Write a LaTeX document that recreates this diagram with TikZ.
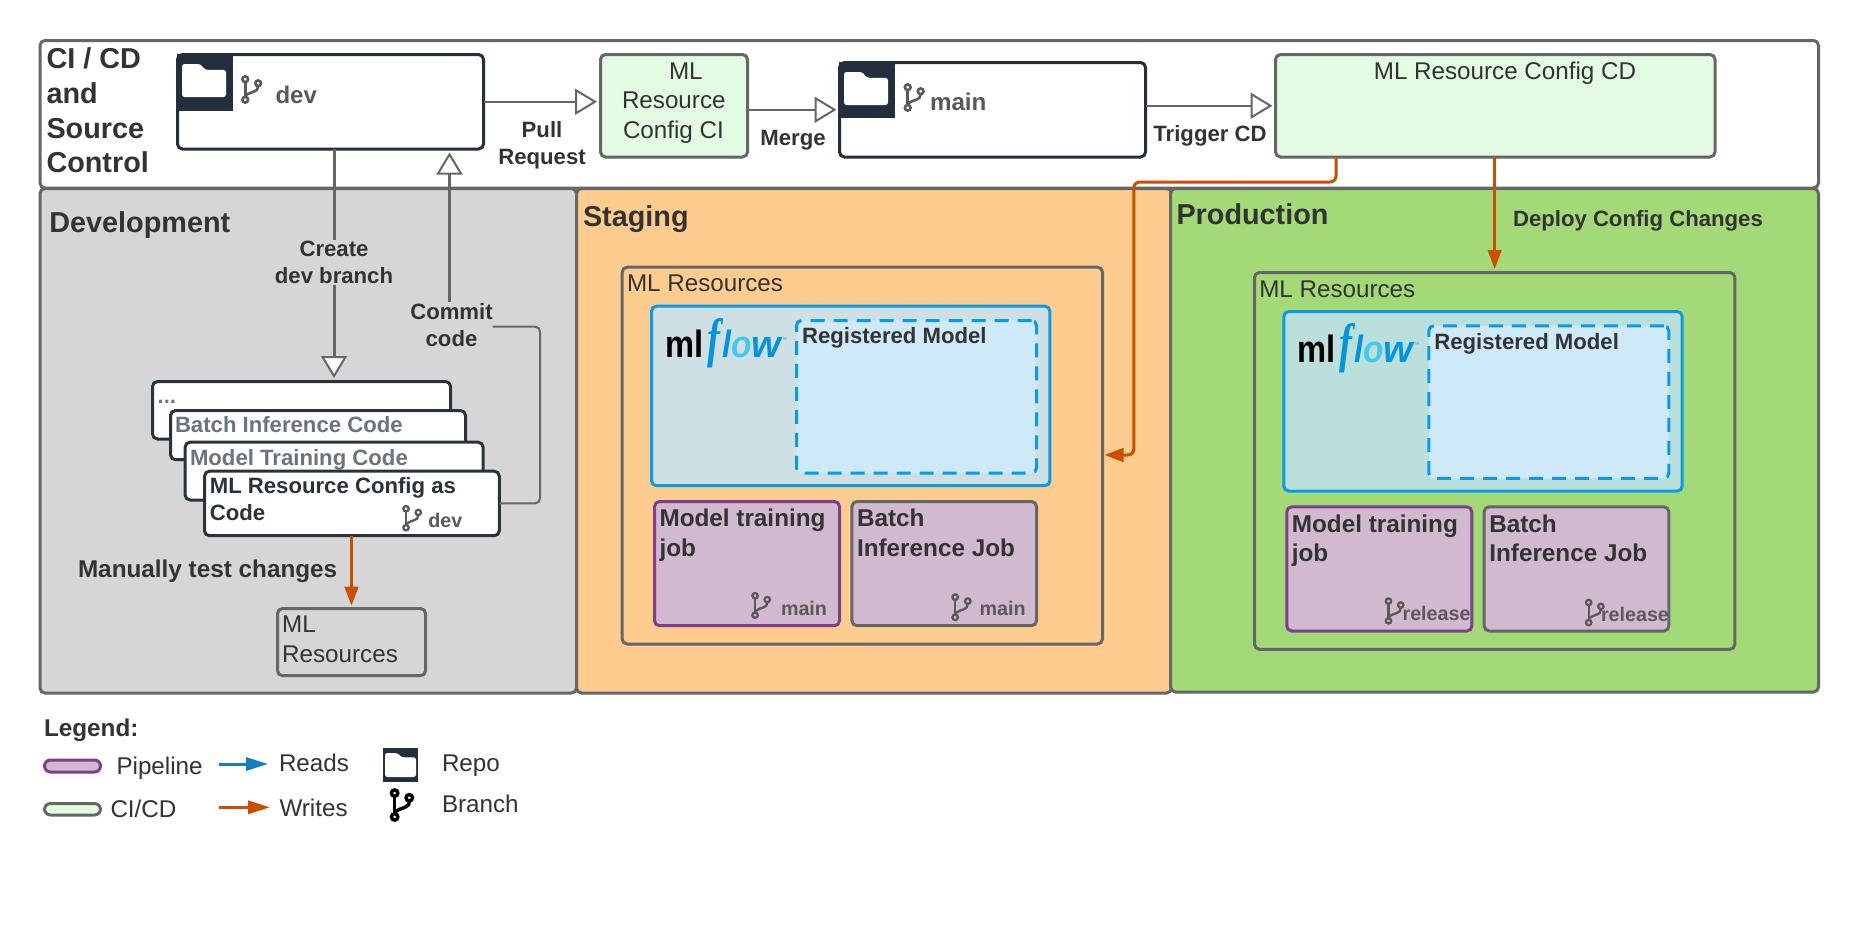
\documentclass[tikz,border=0pt]{standalone}
\usepackage{fontspec}
\usepackage{graphicx}
\setmainfont{Liberation Sans}
\newfontfamily\serifglyph{Liberation Serif}
\usetikzlibrary{arrows.meta,calc}
\definecolor{ink}{HTML}{333333}
\definecolor{edge}{HTML}{666666}
\definecolor{navy}{HTML}{232F3E}
\definecolor{stackedge}{HTML}{2A323C}
\definecolor{branchgray}{HTML}{595959}
\definecolor{slate}{HTML}{6B7380}
\definecolor{devfill}{HTML}{D6D6D6}
\definecolor{stagefill}{HTML}{FFCC8F}
\definecolor{prodfill}{HTML}{A3D977}
\definecolor{cifill}{HTML}{E3FAE3}
\definecolor{jobfill}{HTML}{D1B9D0}
\definecolor{jobedge}{HTML}{7D3F8C}
\definecolor{flowblue}{HTML}{0A9BE6}
\definecolor{regfill}{HTML}{CEE9F7}
\definecolor{mlfillS}{HTML}{CEE0E3}
\definecolor{mlfillP}{HTML}{BBE0DC}
\definecolor{writeorange}{HTML}{CC4E00}
\definecolor{readblue}{HTML}{0E7FC0}
\definecolor{logoblue}{HTML}{0194E2}
\definecolor{logocyan}{HTML}{43C9ED}
\newcommand\fs[2]{\fontsize{#1}{#2}\selectfont}
\tikzset{
  panelbox/.style={draw=edge,line width=3pt,rounded corners=5pt,inner sep=0,outer sep=0,anchor=north west},
  repobox/.style={panelbox,draw=navy,fill=white},
  stackbox/.style={panelbox,draw=stackedge,fill=white},
  cibox/.style={panelbox,fill=cifill},
  jobbox/.style={panelbox,fill=jobfill,draw=jobedge},
  batchbox/.style={panelbox,fill=jobfill},
  flowbox/.style={panelbox,draw=flowblue},
  regbox/.style={panelbox,draw=flowblue,fill=regfill,dash pattern=on 14pt off 9pt},
  txt/.style={inner sep=0,outer sep=0,anchor=base west,text=ink,align=left},
  title/.style={txt,font=\bfseries\fs{28.8}{34.7}},
  body/.style={txt,font=\fs{24.2}{29.3}},
  strong/.style={txt,font=\bfseries\fs{24.3}{29.3}},
  small/.style={txt,font=\bfseries\fs{22.15}{27}},
  brlabel/.style={txt,text=branchgray,font=\bfseries\fs{19.7}{24}},
  hollow/.style={draw=edge,line width=2.5pt,-{Triangle[open,length=22pt,width=26pt,fill=white,line width=2pt]}},
  write/.style={draw=writeorange,line width=3pt,-{Triangle[length=19pt,width=13.5pt,fill=writeorange]},line join=round},
  readarrow/.style={draw=readblue,line width=3pt,-{Triangle[length=22pt,width=13pt,fill=readblue]}},
}
% box as a named node from the outer corners of its stroke
\newcommand\bx[6]{%
  \pgfmathsetmacro\bxw{#5-#3-1}\pgfmathsetmacro\bxh{#6-#4-1.5}%
  \pgfmathsetmacro\bxl{#3+.5}\pgfmathsetmacro\bxt{#4+.5}%
  \node[#1,minimum width=\bxw pt,minimum height=\bxh pt] (#2) at (\bxl,\bxt) {};}
\newcommand\gitbranch[6]{%
  \pgfmathsetmacro\brr{.15*#3}%
  \begin{scope}[shift={(#1,#2)},x=#3pt,y=-#4pt,draw=#5,line width=#6pt]
    \draw (.17,.12) circle[radius=\brr pt];
    \draw (.17,.88) circle[radius=\brr pt];
    \draw (.85,.27) circle[radius=\brr pt];
    \draw (.17,.23) -- (.17,.77);
    \draw (.85,.38) .. controls (.85,.62) and (.5,.55) .. (.19,.72);
  \end{scope}}
\newcommand\folderglyph[4]{%
  \begin{scope}[shift={(#1,#2)},x=#3pt,y=-#4pt]
    \fill[white,rounded corners=2.5pt] (0,0) -- (0,1) -- (1,1) -- (1,.18) -- (.53,.18) -- (.41,0) -- cycle;
  \end{scope}}
% the ML resources block, drawn once per environment
\newcommand\resblock[4]{%
  \begin{scope}[shift={(#2,#3)}]
    \bx{panelbox}{#1res}{621.7}{266.7}{1103}{645}
    \node[body] (#1restxt) at (627,291.7) {ML Resources};
    \bx{flowbox,fill=#4}{#1flow}{651}{305.7}{1050.4}{486.7}
    \bx{regbox}{#1reg}{796}{320}{1037}{474}
    \node[small] (#1regtxt) at (802,343.7) {Registered Model};
    \node[txt,text=black,font=\bfseries\fs{38}{40}] (#1ml) at (665,357) {\scalebox{.86}[1]{ml}};
    \node[txt,text=logoblue,font=\serifglyph\bfseries\itshape\fs{54}{54}] (#1f) at (707,356) {\scalebox{.72}[1]{f}};
    \node[txt,text=logoblue,font=\bfseries\itshape\fs{38}{40}] (#1l) at (722,357) {\scalebox{.85}[1]{l}};
    \node[txt,text=logocyan,font=\bfseries\itshape\fs{38}{40}] (#1o) at (731,357) {\scalebox{.88}[1]{o}};
    \node[txt,text=logoblue,font=\bfseries\itshape\fs{38}{40}] (#1w) at (751,357) {w};
    \node[txt,text=logoblue,font=\fs{5}{6}] (#1tm) at (782,341) {™};
    \bx{jobbox}{#1job}{654}{501}{840}{626.7}
    \node[strong] (#1jobtxt) at (659.5,556) {Model training\\job};
    \bx{batchbox}{#1bat}{851.4}{501}{1037}{626.7}
    \node[strong] (#1battxt) at (857,556) {Batch\\Inference Job};
  \end{scope}}

\begin{document}
\begin{tikzpicture}[x=1pt,y=-1pt]
\useasboundingbox (0,0) rectangle (1857,929);
\fill[white] (0,0) rectangle (1857,929);

% panels
\bx{panelbox,fill=white}{cicd}{39.5}{40}{1819}{189}
\bx{panelbox,fill=devfill}{dev}{39.5}{188}{577}{694}
\bx{panelbox,fill=stagefill}{stage}{576}{188}{1172}{694}
\bx{panelbox,fill=prodfill}{prod}{1170}{188}{1819}{693}
\node[title] (citxt) at (46.5,172.7) {CI / CD\\and\\Source\\Control};
\node[title] (devtxt) at (49.4,232.7) {Development};
\node[title] (stagetxt) at (583,226) {Staging};
\node[title] (prodtxt) at (1176.5,224) {Production};

% repositories and CI/CD
\bx{repobox}{devrepo}{177}{54}{484}{150}
\fill[navy] (177,54) rectangle (233,110.7);
\folderglyph{182}{64}{44}{33}
\gitbranch{242}{76}{19}{27}{branchgray}{2.6}
\node[txt,text=branchgray,font=\bfseries\fs{24}{29}] (devlbl) at (275.5,103) {dev};

\bx{cibox}{ci}{600}{54}{748}{158}
\node[txt,font=\fs{24.2}{29}] (citext1) at (669,79) {ML};
\node[txt,font=\fs{24.2}{29}] (citext2) at (622,108) {Resource};
\node[txt,font=\fs{24.2}{29}] (citext3) at (623,138) {Config CI};

\bx{repobox}{mainrepo}{839}{62}{1146}{158}
\fill[navy] (839,62) rectangle (895,118);
\folderglyph{844}{72}{44}{33}
\gitbranch{904.5}{84}{19}{27}{branchgray}{2.6}
\node[txt,text=branchgray,font=\bfseries\fs{24.2}{29}] (mainlbl) at (930,110.7) {main};

\bx{cibox}{cd}{1275}{54}{1715.5}{158}
\node[txt,font=\fs{24.2}{29},anchor=base] (cdtxt) at (1505,79) {ML Resource Config CD};

% top row connectors
\draw[hollow] (devrepo.east) -- ($(ci.west |- devrepo.east)+(-3.5,0)$);
\draw[hollow] (ci.east |- mainrepo.west) -- ($(mainrepo.west)+(-3,0)$);
\draw[hollow,line width=1.8pt] (mainrepo.east |- cd.west) -- ($(cd.west)+(-3,0)$);
\node[small,align=center,anchor=base] (pulltxt) at (542,164) {Pull\\Request};
\node[small,anchor=base] (mergetxt) at (793,145) {Merge};
\node[small,anchor=base] (triggertxt) at (1210,141.7) {Trigger CD};

% code stack
\bx{stackbox}{stacka}{152}{381}{451}{440}
\node[small,text=slate] (stackatxt) at (157.6,403) {...};
\bx{stackbox}{stackb}{170}{410}{466}{460.7}
\node[small,text=slate] (stackbtxt) at (175,432.7) {Batch Inference Code};
\bx{stackbox}{stackc}{184.6}{441.7}{483.6}{501}
\node[small,text=slate] (stackctxt) at (190,465) {Model Training Code};
\bx{stackbox}{stackd}{204}{470.7}{499.8}{536.7}
\node[small,text=stackedge] (stackdtxt) at (209.8,520) {ML Resource Config as\\Code};
\gitbranch{403}{505.7}{18}{25}{branchgray}{2.3}
\node[brlabel] (stackdbr) at (428.4,527.7) {dev};

% development connectors
\node[small,align=center,anchor=center,fill=devfill,inner ysep=1pt] (createtxt) at (334,262.5) {Create\\dev branch};
\draw[edge,line width=3pt] (devrepo.south -| createtxt) -- (createtxt.north);
\draw[hollow,line width=3pt] (createtxt.south) -- ($(stacka.north -| createtxt)+(0,-3.5)$);
\node[small,align=center,anchor=center] (committxt) at (451.5,324.6) {Commit\\code};
\coordinate (commitrail) at (540,400);
\draw[hollow] ($(committxt.north)+(-2,-1)$) -- ($(committxt.north |- devrepo.south)+(-2,3.5)$);
\draw[edge,line width=2pt,rounded corners=5pt] ($(committxt.east)+(0,2)$) -| (commitrail) |- (stackd.east);
\node[strong] (manualtxt) at (78,577.7) {Manually test changes};
\bx{panelbox,fill=devfill}{devres}{277}{608}{426}{676.7}
\node[body] (devrestxt) at (282.2,662) {ML\\Resources};
\draw[write] (stackd.south -| devres) -- ($(devres.north)+(0,-2.8)$);

% environments
\resblock{S}{0}{0}{mlfillS}
\resblock{P}{632.3}{5.3}{mlfillP}
\gitbranch{752}{592.7}{18}{25.5}{branchgray}{2.3}
\node[brlabel] (Sjobbr) at (781,615) {main};
\gitbranch{952}{594}{18.5}{26.5}{branchgray}{2.3}
\node[brlabel] (Sbatbr) at (979.6,615.7) {main};
\gitbranch{1385.4}{598}{18}{26}{branchgray}{2.3}
\node[brlabel] (Pjobbr) at (1402.6,620.7) {release};
\gitbranch{1585.6}{599.3}{18}{26.4}{branchgray}{2.3}
\node[brlabel] (Pbatbr) at (1601,621.3) {release};

% deploy connectors
\coordinate (cdout) at (1336,157);
\coordinate (cdrail) at (1133.8,182);
\coordinate (stagein) at (1133.8,455);
\draw[write,rounded corners=6pt] (cdout) |- (cdrail) -- (stagein) -- ($(Sres.east |- stagein)+(2,0)$);
\draw[write] (cd.south -| Pres) -- ($(Pres.north)+(0,-3.5)$);
\node[small] (deploytxt) at (1513,226) {Deploy Config Changes};

% legend
\node[strong] (legendtxt) at (44,736) {Legend:};
\draw[jobedge,fill=jobfill,line width=3pt,rounded corners=6pt] (44.5,760) rectangle (100.5,772);
\node[body] (legpipe) at (116.5,774) {Pipeline};
\draw[edge,fill=cifill,line width=3pt,rounded corners=6pt] (44.5,803.5) rectangle (100.5,815);
\node[body] (legci) at (110.5,817) {CI/CD};
\coordinate (rdA) at (219,764);
\coordinate (rdB) at (268,764);
\coordinate (wrA) at (219,807.3);
\coordinate (wrB) at (270,807.3);
\draw[readarrow] (rdA) -- (rdB);
\draw[write,-{Triangle[length=22pt,width=13pt,fill=writeorange]}] (wrA) -- (wrB);
\node[body] (legreads) at (279,771.7) {Reads};
\node[body] (legwrites) at (279.5,816) {Writes};
\fill[navy] (383,748) rectangle (418,781.7);
\folderglyph{385}{753}{31}{24}
\gitbranch{391}{789.3}{21.5}{31.4}{black}{3.4}
\node[body] (legrepo) at (442,771.7) {Repo};
\node[body] (legbranch) at (442,812.7) {Branch};
\end{tikzpicture}
\end{document}
